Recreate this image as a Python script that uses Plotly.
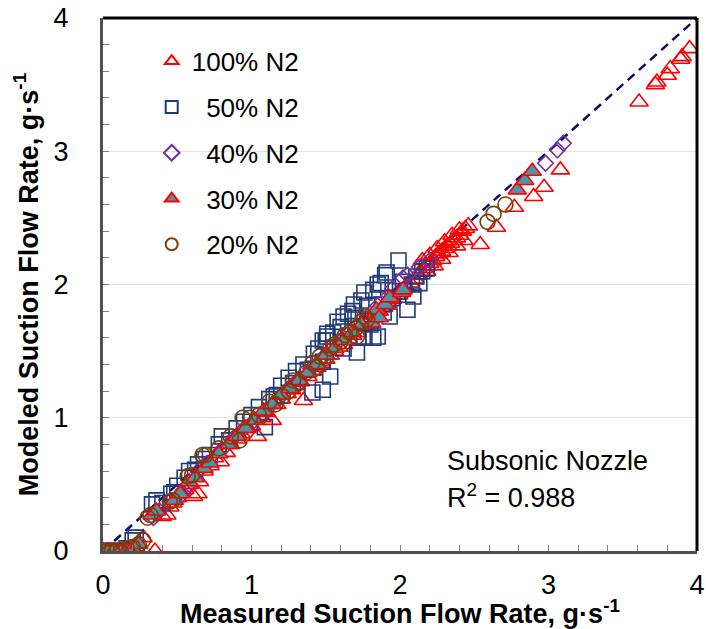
import plotly.graph_objects as go

# ---------------- data ----------------
x_100 = [0.00,0.02,0.04,0.06,0.08,0.10,0.12,0.14,0.16,0.18,0.20,0.22,0.27,0.35,
         0.40,0.43,0.45,0.47,0.50,0.52,0.55,0.58,0.61,0.64,0.65,0.68,0.72,0.75,0.79,0.83,
         0.86,0.90,0.93,0.97,1.00,1.04,1.07,1.10,1.14,1.17,1.20,1.24,1.27,1.30,1.33,1.35,
         1.38,1.41,1.44,1.47,1.50,1.53,1.56,1.59,1.62,1.65,1.68,1.71,1.74,1.77,1.80,1.83,
         1.86,1.89,1.92,1.95,1.98,2.01,2.04,2.07,2.10,2.12,2.14,2.16,2.18,2.20,2.22,2.24,
         2.26,2.28,2.30,2.32,2.34,2.36,2.38,2.40,2.42,2.44,2.46,2.15,2.20,2.25,2.30,2.35,
         2.40,2.18,2.23,2.28,2.33,2.38,2.43,2.54,2.65,2.77,2.90,2.97,3.08,3.61,3.72,3.73,
         3.80,3.82,3.89,3.90,3.95]
y_100 = [0.00,0.00,0.00,0.00,0.00,0.00,0.00,0.00,0.00,0.00,0.01,0.03,0.10,0.00,
         0.26,0.27,0.33,0.36,0.40,0.44,0.46,0.50,0.41,0.43,0.52,0.60,0.64,0.70,0.67,0.74,
         0.80,0.84,0.88,0.92,0.94,0.86,1.00,1.04,0.98,1.10,1.14,1.18,1.21,1.24,1.27,1.13,
         1.31,1.35,1.38,1.41,1.44,1.47,1.50,1.53,1.55,1.59,1.62,1.64,1.68,1.70,1.74,1.77,
         1.80,1.83,1.86,1.89,1.92,1.95,1.98,2.01,2.04,2.07,2.09,2.12,2.14,2.16,2.18,2.21,
         2.23,2.25,2.27,2.29,2.31,2.33,2.35,2.37,2.40,2.42,2.44,2.18,2.22,2.27,2.32,2.37,
         2.41,2.10,2.14,2.19,2.24,2.29,2.33,2.30,2.43,2.58,2.66,2.73,2.86,3.37,3.50,3.52,
         3.57,3.62,3.69,3.71,3.77]

x_50 = [0.00,0.02,0.05,0.08,0.12,0.16,0.20,0.22,0.33,0.36,0.40,0.46,0.48,0.50,0.55,
        0.58,0.62,0.64,0.68,0.72,0.78,0.80,0.85,0.90,0.95,1.00,1.05,1.09,1.12,1.15,1.17,
        1.20,1.25,1.28,1.30,1.35,1.38,1.41,1.42,1.45,1.48,1.48,1.48,1.50,1.51,1.51,1.53,
        1.55,1.58,1.60,1.62,1.62,1.65,1.68,1.69,1.70,1.71,1.72,1.74,1.76,1.76,1.78,1.80,
        1.82,1.82,1.85,1.85,1.87,1.88,1.89,1.90,1.91,1.93,1.95,1.99,2.00,2.02,2.05,2.08,
        2.09,2.11,2.13,2.15,2.18]
y_50 = [0.00,0.00,0.00,0.00,0.00,0.02,0.08,0.10,0.35,0.38,0.36,0.43,0.44,0.49,0.55,
        0.60,0.61,0.65,0.69,0.72,0.80,0.86,0.83,0.92,0.97,1.02,1.08,0.93,1.14,1.16,1.17,
        1.24,1.30,1.26,1.35,1.40,1.36,1.19,1.48,1.52,1.21,1.42,1.58,1.58,1.61,1.63,1.31,
        1.64,1.72,1.68,1.76,1.52,1.78,1.80,1.85,1.75,1.49,1.60,1.88,1.94,1.61,1.84,1.70,
        1.96,1.60,1.61,2.00,2.01,1.85,1.79,2.07,2.09,1.76,1.90,2.18,1.95,2.02,1.81,2.00,
        1.91,2.06,2.01,2.10,2.12]

x_40 = [0.00,0.05,0.10,0.15,0.34,0.38,0.53,0.58,0.65,0.70,0.80,0.88,0.95,1.02,1.10,
        1.18,1.25,1.32,1.40,1.48,1.55,1.62,1.70,1.78,1.85,1.92,1.95,2.02,2.05,2.13,2.20,
        2.98,3.06,3.10]
y_40 = [0.00,0.00,0.00,0.00,0.25,0.30,0.42,0.50,0.61,0.66,0.76,0.85,0.92,0.98,1.06,
        1.14,1.22,1.29,1.37,1.45,1.53,1.60,1.68,1.76,1.84,1.91,1.97,2.05,2.07,2.13,2.18,
        2.91,3.01,3.06]

x_30 = [0.00,0.03,0.07,0.12,0.16,0.20,0.24,0.33,0.36,0.48,0.52,0.58,0.62,0.68,0.72,
        0.78,0.85,0.90,0.96,1.02,1.08,1.14,1.20,1.26,1.32,1.38,1.44,1.50,1.56,1.62,1.68,
        1.74,1.81,1.84,1.86,1.90,1.93,2.01,2.02,2.79,2.84,2.89]
y_30 = [0.00,0.00,0.00,0.00,0.00,0.02,0.05,0.27,0.30,0.38,0.43,0.52,0.55,0.62,0.66,
        0.73,0.80,0.86,0.92,0.98,1.05,1.10,1.17,1.22,1.28,1.34,1.40,1.47,1.52,1.58,1.64,
        1.70,1.71,1.81,1.75,1.85,1.90,1.94,1.96,2.71,2.78,2.85]

x_20 = [0.00,0.03,0.06,0.09,0.12,0.16,0.20,0.24,0.27,0.30,0.32,0.45,0.47,0.57,0.60,
        0.67,0.69,0.78,0.86,0.92,0.94,0.99,1.05,1.12,1.16,1.21,1.25,1.28,1.32,1.37,1.41,
        1.44,1.46,1.50,1.53,1.56,1.60,1.63,1.66,1.70,1.71,1.74,1.76,1.78,2.59,2.63,2.71]
y_20 = [0.00,0.00,0.00,0.00,0.00,0.02,0.03,0.05,0.08,0.25,0.27,0.37,0.38,0.56,0.57,
        0.72,0.72,0.77,0.86,0.83,1.00,1.00,1.02,1.12,1.10,1.16,1.20,1.28,1.27,1.34,1.41,
        1.38,1.46,1.45,1.52,1.55,1.57,1.62,1.64,1.67,1.61,1.72,1.76,1.74,2.47,2.53,2.60]

line_x = [0, 4]
line_y = [0, 4]

series_names = ["100% N2", "\u00a0\u00a050% N2", "\u00a0\u00a040% N2", "\u00a0\u00a030% N2", "\u00a0\u00a020% N2"]
x_ticks = [0, 1, 2, 3, 4]
note_lines = ["Subsonic Nozzle", "R<sup>2</sup> = 0.988"]

FONT = "Liberation Sans, Arial, sans-serif"
FS = 27

fig = go.Figure()

fig.add_trace(go.Scatter(x=line_x, y=line_y, mode="lines", showlegend=False,
                         line=dict(color="#0a0a6e", width=2.5, dash="9px,6px"),
                         hoverinfo="skip"))

fig.add_trace(go.Scatter(x=x_100, y=y_100, mode="markers", name=series_names[0], legendgroup="a",
                         marker=dict(symbol="triangle-up-open", size=16, color="#ff0000",
                                     line=dict(width=1.6, color="#ff0000"))))
fig.add_trace(go.Scatter(x=x_50, y=y_50, mode="markers", name=series_names[1], legendgroup="b",
                         marker=dict(symbol="square-open", size=15, color="#1f3a7a",
                                     line=dict(width=1.6, color="#1f3a7a"))))
fig.add_trace(go.Scatter(x=x_40, y=y_40, mode="markers", name=series_names[2], legendgroup="c",
                         marker=dict(symbol="diamond-open", size=12, color="#7030a0",
                                     line=dict(width=1.6, color="#7030a0"))))
fig.add_trace(go.Scatter(x=x_30, y=y_30, mode="markers", name=series_names[3], legendgroup="d",
                         marker=dict(symbol="triangle-up", size=16, color="#4a96a8",
                                     line=dict(width=1.6, color="#ff0000"))))
fig.add_trace(go.Scatter(x=x_20, y=y_20, mode="markers", name=series_names[4], legendgroup="e",
                         marker=dict(symbol="circle-open", size=15, color="#7a3f0a",
                                     line=dict(width=1.6, color="#7a3f0a"))))

fig.update_layout(
    width=706, height=629,
    margin=dict(l=103, r=9, t=18, b=78),
    paper_bgcolor="white", plot_bgcolor="white",
    font=dict(family=FONT, color="black"),
    legend=dict(x=0.082, y=0.963, xanchor="left", yanchor="top",
                font=dict(size=FS - 1, family=FONT), bgcolor="rgba(0,0,0,0)",
                traceorder="grouped", tracegroupgap=9, itemsizing="constant"),
    annotations=[dict(text=note_lines[0], xref="paper", yref="paper",
                      x=0.578, y=0.168, xanchor="left", yanchor="middle", align="left",
                      showarrow=False, borderpad=0, font=dict(size=FS, family=FONT)),
                 dict(text=note_lines[1], xref="paper", yref="paper",
                      x=0.578, y=0.104, xanchor="left", yanchor="middle", align="left",
                      showarrow=False, borderpad=0, font=dict(size=FS, family=FONT))],
    shapes=[dict(type="line", xref="paper", yref="paper", x0=0, x1=1, y0=1, y1=1,
                 line=dict(color="black", width=3)),
            dict(type="line", xref="paper", yref="paper", x0=1, x1=1, y0=0, y1=1,
                 line=dict(color="black", width=3))],
)

fig.update_xaxes(range=[0, 4], tickvals=x_ticks, showgrid=False, zeroline=False, automargin=False,
                 showline=True, linecolor="#505050", linewidth=3,
                 ticks="inside", ticklen=6, tickcolor="#808080",
                 minor=dict(dtick=0.2, ticks="inside", ticklen=6, tickcolor="#808080", showgrid=False),
                 tickfont=dict(size=FS, family=FONT), ticklabelstandoff=8,
                 title=dict(text="<b>Measured Suction Flow Rate, g·s<sup>-1</sup></b>",
                            font=dict(size=FS, family=FONT), standoff=1))
fig.update_yaxes(range=[0, 4], tickvals=x_ticks, showgrid=True, gridcolor="#e3e3e3", gridwidth=1,
                 zeroline=False, showline=True, linecolor="#505050", linewidth=3, automargin=False,
                 ticks="inside", ticklen=6, tickcolor="#808080",
                 minor=dict(dtick=0.2, ticks="inside", ticklen=6, tickcolor="#808080", showgrid=False),
                 tickfont=dict(size=FS, family=FONT), ticklabelstandoff=26,
                 title=dict(text="<b>Modeled Suction Flow Rate, g·s<sup>-1</sup></b>",
                            font=dict(size=FS, family=FONT), standoff=8))

fig.write_html("out.html")
